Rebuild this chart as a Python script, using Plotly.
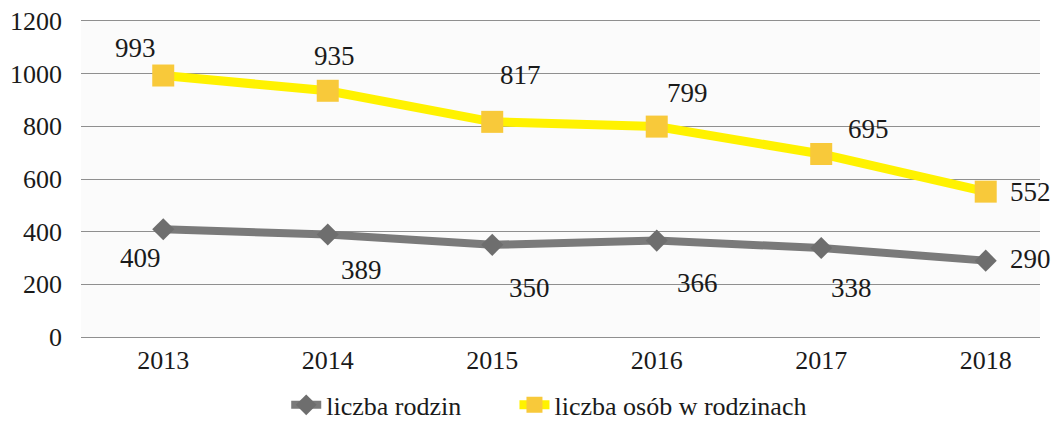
import plotly.graph_objects as go

years = ["2013", "2014", "2015", "2016", "2017", "2018"]
rodziny = [409, 389, 350, 366, 338, 290]
osoby = [993, 935, 817, 799, 695, 552]
y_ticks = [0, 200, 400, 600, 800, 1000, 1200]

name_rodziny = "liczba rodzin"
name_osoby = "liczba osób w rodzinach"

# label offsets in pixels (xshift, yshift)
off_osoby = [(-28, 28), (7, 35), (28, 47), (31, 34), (47, 25), (45, 0)]
off_rodziny = [(-23, -29), (34, -35), (37, -43), (41, -42), (30, -40), (45, 2)]

font_serif = "Liberation Serif"
xs = list(range(len(years)))

fig = go.Figure()
fig.add_trace(go.Scatter(
    x=xs, y=rodziny, name=name_rodziny, mode="lines+markers",
    line=dict(color="#7a7a7a", width=8),
    marker=dict(symbol="diamond", size=17, color="#6e6e6e"),
    legend="legend",
))
fig.add_trace(go.Scatter(
    x=xs, y=osoby, name=name_osoby, mode="lines+markers",
    line=dict(color="#fff200", width=9),
    marker=dict(symbol="square", size=22, color="#f8c93a"),
    legend="legend2",
))

for i, v in enumerate(osoby):
    fig.add_annotation(x=xs[i], y=v, text=str(v), showarrow=False,
                       xshift=off_osoby[i][0], yshift=off_osoby[i][1],
                       font=dict(family=font_serif, size=27, color="#1a1a1a"))
for i, v in enumerate(rodziny):
    fig.add_annotation(x=xs[i], y=v, text=str(v), showarrow=False,
                       xshift=off_rodziny[i][0], yshift=off_rodziny[i][1],
                       font=dict(family=font_serif, size=27, color="#1a1a1a"))

legend_common = dict(orientation="h", y=-0.215, xanchor="left", yanchor="middle",
                     font=dict(family=font_serif, size=26, color="#1a1a1a"),
                     bgcolor="rgba(0,0,0,0)", borderwidth=0)

fig.update_layout(
    width=1052, height=422,
    margin=dict(l=81, r=12, t=21, b=85, autoexpand=False),
    paper_bgcolor="white", plot_bgcolor="#fbfbfb",
    font=dict(family=font_serif, size=22, color="#1a1a1a"),
    showlegend=True,
    legend=dict(x=0.214, **legend_common),
    legend2=dict(x=0.452, **legend_common),
)
fig.update_xaxes(
    tickmode="array", tickvals=xs, ticktext=years,
    range=[-0.5, 5.33], showgrid=False, zeroline=False,
    showline=True, mirror=True, linecolor="#8f8f8f", linewidth=1.3,
    ticks="", tickfont=dict(family=font_serif, size=26),
)
fig.update_yaxes(
    range=[0, 1200], tickvals=y_ticks, showgrid=True, gridcolor="#8f8f8f",
    gridwidth=1.3, zeroline=False, showline=False, ticks="", ticklabelstandoff=18,
    tickfont=dict(family=font_serif, size=26),
)

fig.write_html("out.html", config={"displayModeBar": False},
               post_script="document.body.style.margin='0';document.body.style.overflow='hidden';")
